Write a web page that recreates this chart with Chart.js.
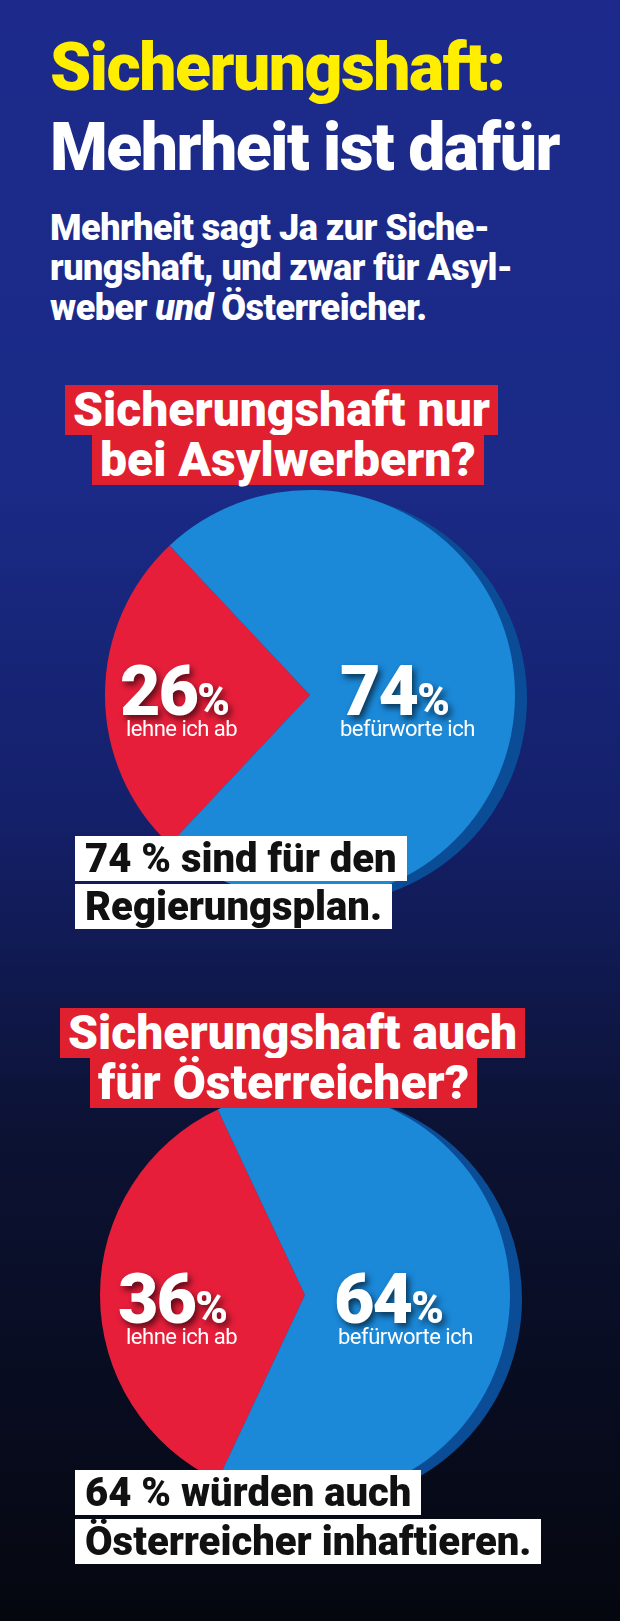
<!DOCTYPE html>
<html><head><meta charset="utf-8">
<script src="https://cdn.jsdelivr.net/npm/chart.js@4"></script>
<style>
body{margin:0;width:620px;height:1621px;overflow:hidden;font-family:"Roboto",sans-serif;font-weight:900;
 background:linear-gradient(#1d2a8c 0%,#1a2a86 30%,#14206a 50%,#0c1233 70%,#05070f 100%);position:relative}
.t{position:absolute;white-space:nowrap;z-index:3}
.h1{font-size:66px;letter-spacing:-1.5px;left:50px;line-height:1}
.sub{color:#fff;font-size:36px;left:50px;line-height:40px;top:208px;letter-spacing:-0.5px}
.red{background:#e0202e;color:#fff;font-size:48px;padding:0 8px;line-height:50px}
.wb{background:#fff;color:#111;font-size:40px;padding:0 10px;line-height:45px}
.pct{color:#fff;font-size:70px;text-shadow:3px 4px 6px rgba(0,0,0,.6);letter-spacing:-2px}
.pct span{font-size:44px}
.lab{color:#fff;font-size:22px;font-weight:normal;letter-spacing:-0.5px}
canvas{position:absolute;z-index:1}
.rim{position:absolute;border-radius:50%;background:#0a4d96;z-index:0}
</style></head><body>
<div class="t h1" style="top:35px;color:#ffee00">Sicherungshaft:</div>
<div class="t h1" style="top:115px;color:#fff">Mehrheit ist dafür</div>
<div class="t sub">Mehrheit sagt Ja zur Siche-<br>rungshaft, und zwar für Asyl-<br>weber <i>und</i> Österreicher.</div>

<div class="t red" style="left:65px;top:385px">Sicherungshaft nur</div>
<div class="t red" style="left:92px;top:435px">bei Asylwerbern?</div>
<div class="rim" style="left:117px;top:494px;width:410px;height:410px"></div>
<canvas id="pie1" width="410" height="410" style="left:105px;top:490px"></canvas>
<div class="t pct" style="left:120px;top:650px" id="p1a"></div>
<div class="t lab" style="left:126px;top:716px">lehne ich ab</div>
<div class="t pct" style="left:340px;top:650px" id="p1b"></div>
<div class="t lab" style="left:340px;top:716px">befürworte ich</div>
<div class="t wb" style="left:75px;top:836px">74 % sind für den</div>
<div class="t wb" style="left:75px;top:884px">Regierungsplan.</div>

<div class="t red" style="left:60px;top:1008px">Sicherungshaft auch</div>
<div class="t red" style="left:90px;top:1058px">für Österreicher?</div>
<div class="rim" style="left:112px;top:1094px;width:410px;height:410px"></div>
<canvas id="pie2" width="410" height="410" style="left:100px;top:1090px"></canvas>
<div class="t pct" style="left:118px;top:1258px" id="p2a"></div>
<div class="t lab" style="left:126px;top:1324px">lehne ich ab</div>
<div class="t pct" style="left:334px;top:1258px" id="p2b"></div>
<div class="t lab" style="left:338px;top:1324px">befürworte ich</div>
<div class="t wb" style="left:75px;top:1470px">64 % würden auch</div>
<div class="t wb" style="left:75px;top:1519px">Österreicher inhaftieren.</div>

<script>
// Data
const categories = ['lehne ich ab', 'befürworte ich'];
const asylValues = [26, 74];
const oesterreicherValues = [36, 64];
const sliceColors = ['#e61e3a', '#1b88d8'];

function makePie(id, values) {
    new Chart(document.getElementById(id), {
        type: 'pie',
        data: { labels: categories, datasets: [{ data: values, backgroundColor: sliceColors, borderWidth: 0 }] },
        options: {
            responsive: false,
            animation: false,
            rotation: -90 - values[0] * 1.8,
            plugins: { legend: { display: false }, tooltip: { enabled: false } }
        }
    });
}
makePie('pie1', asylValues);
makePie('pie2', oesterreicherValues);
document.getElementById('p1a').innerHTML = asylValues[0] + '<span>%</span>';
document.getElementById('p1b').innerHTML = asylValues[1] + '<span>%</span>';
document.getElementById('p2a').innerHTML = oesterreicherValues[0] + '<span>%</span>';
document.getElementById('p2b').innerHTML = oesterreicherValues[1] + '<span>%</span>';
</script>
</body></html>
